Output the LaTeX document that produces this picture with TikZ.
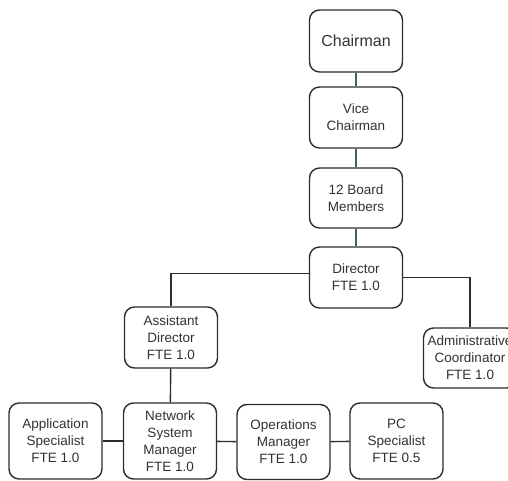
\documentclass[tikz,border=0pt]{standalone}
\usepackage{fontspec}
\setmainfont{Liberation Sans}
\usetikzlibrary{positioning}

\definecolor{boxline}{RGB}{45,45,45}
\definecolor{textgrey}{RGB}{50,50,50}
\definecolor{linkteal}{RGB}{60,100,100}

\begin{document}
\begin{tikzpicture}[
		x=1pt, y=-1pt,
		every node/.style={font=\fontsize{13.5}{17}\selectfont, text=textgrey},
		post/.style={draw=boxline, line width=1.4pt, rounded corners=10pt,
			fill=white, align=center, minimum width=93pt, inner sep=1pt},
		link/.style={draw=boxline, line width=1.4pt},
		toplink/.style={draw=linkteal, line width=1.4pt}
	]

		\useasboundingbox (0,0) rectangle (508,481);

		\node[post,minimum height=62pt,font=\fontsize{16}{19}\selectfont] (Chair) at (356,41) {Chairman};
		\node[post,minimum height=61pt] (Vice) at (356,117.5) {Vice\\Chairman};
		\node[post,minimum height=60pt] (Board) at (356,198) {12 Board\\Members};
		\node[post,minimum height=61pt] (Dir) at (356,277.5) {Director\\FTE 1.0};
		\node[post,minimum height=61pt] (Asst) at (171,337.5) {Assistant\\Director\\FTE 1.0};
		\node[post,minimum height=60pt] (Admin) at (470,358) {Administrative\\Coordinator\\FTE 1.0};
		\node[post,minimum height=76pt] (App) at (55.5,441) {Application\\Specialist\\FTE 1.0};
		\node[post,minimum height=76pt] (Net) at (170,441) {Network\\System\\Manager\\FTE 1.0};
		\node[post,minimum height=75pt] (Ops) at (283.5,442) {Operations\\Manager\\FTE 1.0};
		\node[post,minimum height=76pt] (PC) at (396.5,441) {PC\\Specialist\\FTE 0.5};

		\draw[toplink] (Chair) -- (Vice);
		\draw[toplink] (Vice) -- (Board);
		\draw[toplink] (Board) -- (Dir);
		\draw[link] ([yshift=4pt]Dir.west) -| (Asst.north);
		\draw[link] (Dir.east) -| (Admin.north);
		\draw[link] (Asst) -- (Net);
		\draw[link] (App) -- (Net);
		\draw[link] (Net) -- (Ops);
		\draw[link] (Ops) -- (PC);
	\end{tikzpicture}
\end{document}
